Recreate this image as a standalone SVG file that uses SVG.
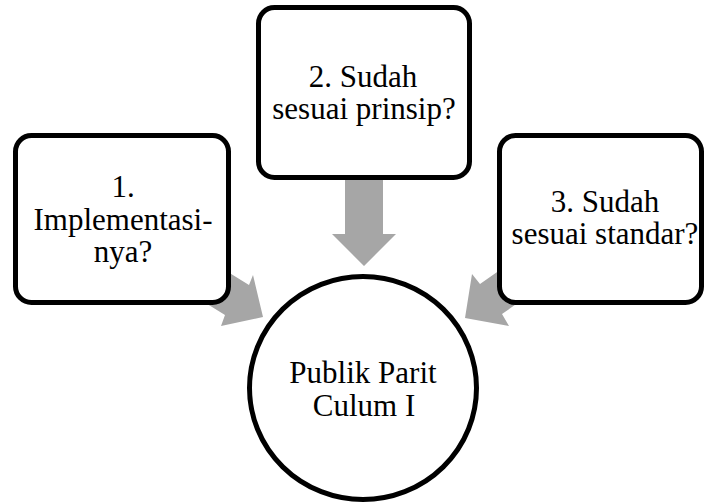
<svg xmlns="http://www.w3.org/2000/svg" width="705" height="503" viewBox="0 0 705 503">
<style>
.box{fill:#fff;stroke:#000;stroke-width:5}
.arr{fill:#a6a6a6;stroke:none}
.t{font-family:"Liberation Serif","Times New Roman",serif;font-size:31px;fill:#000;text-anchor:middle}
</style>
<rect width="705" height="503" fill="#fff"/>
<g id="connectors">
<polygon class="arr" points="345,175 383,175 383,234 396,234 364,266 332,234 345,234"/>
<polygon class="arr" points="215,264 249,285 253,275 263,317 221,326 225,315 191,294"/>
<polygon class="arr" points="513,261 480,284 472,274 465,318 509,326 502,314 535,291"/>
</g>
<g id="node1">
<rect class="box" x="15.5" y="135.5" width="213" height="167" rx="16"/>
<text class="t" x="123" y="197">1.</text>
<text class="t" x="123" y="230">Implementasi-</text>
<text class="t" x="123" y="262">nya?</text>
</g>
<g id="node2">
<rect class="box" x="258.5" y="7.5" width="211" height="170" rx="16"/>
<text class="t" x="363" y="87">2. Sudah</text>
<text class="t" x="364" y="119">sesuai prinsip?</text>
</g>
<g id="node3">
<rect class="box" x="499.5" y="135.5" width="202" height="167" rx="16"/>
<text class="t" x="605" y="212">3. Sudah</text>
<text class="t" x="605" y="244">sesuai standar?</text>
</g>
<g id="center">
<ellipse class="box" cx="363" cy="388" rx="113.5" ry="111.5"/>
<text class="t" x="363" y="383">Publik Parit</text>
<text class="t" x="364" y="416">Culum I</text>
</g>
</svg>
